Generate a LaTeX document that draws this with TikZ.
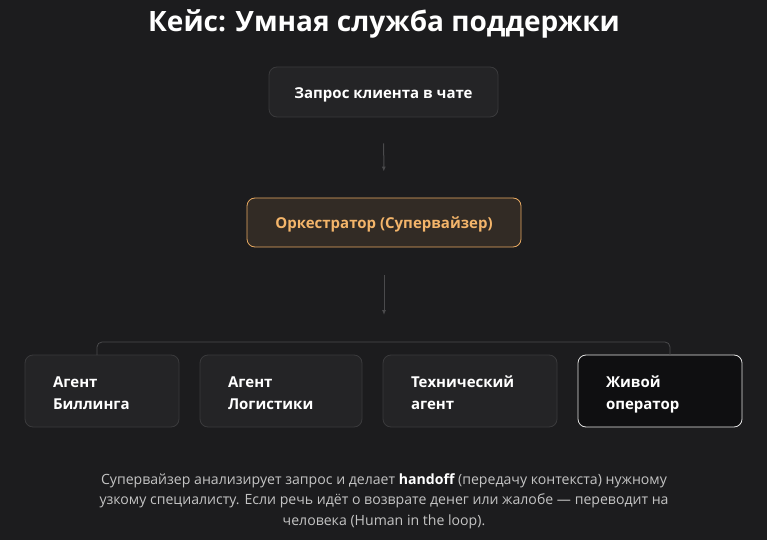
\documentclass[tikz,border=0pt]{standalone}
\usepackage{fontspec}
\setmainfont{Open Sans}
\usetikzlibrary{positioning, arrows.meta}

\definecolor{bg}{HTML}{1C1C1E}
\definecolor{boxfill}{HTML}{242426}
\definecolor{boxline}{HTML}{3A3A3C}
\definecolor{orchfill}{HTML}{322B25}
\definecolor{orchline}{HTML}{E8AA62}
\definecolor{orchtext}{HTML}{F4B56A}
\definecolor{humanfill}{HTML}{0F0F11}
\definecolor{humanline}{HTML}{E4E4E4}
\definecolor{wire}{HTML}{4A4A4C}
\definecolor{note}{HTML}{C4C4C4}

\tikzset{
	card/.style = {draw = boxline, fill = boxfill, rounded corners = 8pt, line width = 0.8pt,
		text = white, font = \fontsize{15}{22}\selectfont\bfseries, inner sep = 0pt},
	single/.style = {card, text height = 16pt, text depth = 3.5pt},
	agent/.style = {card, minimum height = 72pt, align = left, inner xsep = 28pt,
		text height = 11pt, text depth = 19pt},
	flow/.style = {draw = wire, line width = 1pt, -{Latex[length = 5pt, width = 4pt]}}
}

\begin{document}
\begin{tikzpicture}[x = 1pt, y = -1pt]

	% Background

	\fill [bg] (0, 0) rectangle (767, 540);
	\useasboundingbox (0, 0) rectangle (767, 540);

	% Title

	\node (title) at (384, 24) [text = white, font = \fontsize{28}{32}\selectfont\bfseries] {Кейс: Умная служба поддержки};

	% Request and orchestrator

	\node (request) at (383.5, 92) [single, minimum width = 229pt, minimum height = 50pt] {Запрос клиента в чате};

	\node (orch) at (384, 222.5) [single, draw = orchline, fill = orchfill, text = orchtext,
		minimum width = 274pt, minimum height = 49pt] {Оркестратор (Супервайзер)};

	% Agents

	\node (billing) at (102, 391) [agent, text width = 98pt] {Агент\\Биллинга};
	\node (logistics) at (281, 391) [agent, text width = 106pt] {Агент\\Логистики};
	\node (tech) at (470, 391) [agent, text width = 118pt] {Технический\\агент};
	\node (human) at (660, 391) [agent, draw = humanline, fill = humanfill, text width = 108pt] {Живой\\оператор};

	% Wires

	\coordinate (split) at (384, 342);
	\coordinate (left end) at (97, 355);
	\coordinate (right end) at (670, 355);

	\draw [wire, line width = 0.8pt, rounded corners = 5pt] (left end) |- (split) -| (right end);

	\draw [flow, shorten < = 26pt, shorten > = 26pt] (request) -- (orch);
	\draw [flow, shorten < = 28pt, shorten > = 27pt] (orch) -- (split);

	% Note

	\node (note) at (384, 501) [text = note, align = center, font = \fontsize{14.1}{20.5}\selectfont]
		{Супервайзер анализирует запрос и делает \textcolor{white}{\bfseries handoff} (передачу контекста) нужному\\
		узкому специалисту. Если речь идёт о возврате денег или жалобе — переводит на\\
		человека (Human in the loop).};

\end{tikzpicture}
\end{document}
